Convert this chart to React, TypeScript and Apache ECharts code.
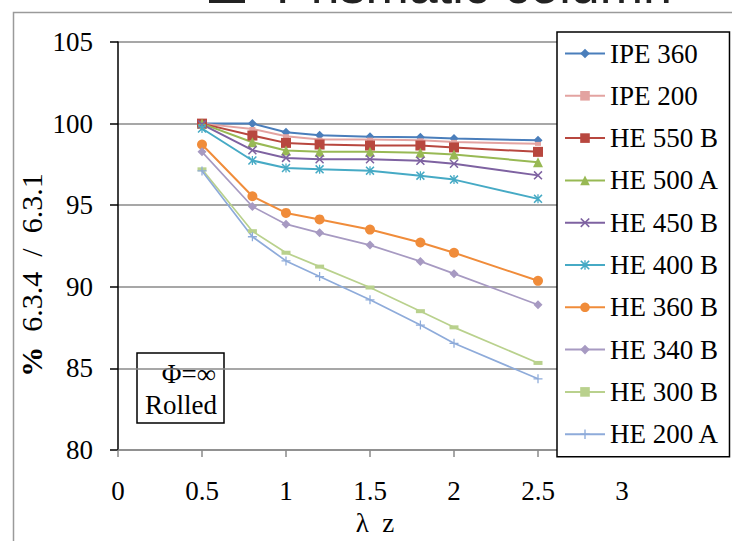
import React, { useEffect, useRef } from "react";
import * as echarts from "echarts";

const xValues = [0.5, 0.8, 1.0, 1.2, 1.5, 1.8, 2.0, 2.5];
const seriesNames = ["IPE 360", "IPE 200", "HE 550 B", "HE 500 A", "HE 450 B", "HE 400 B", "HE 360 B", "HE 340 B", "HE 300 B", "HE 200 A"];
const ipe360 = [100, 100, 99.47, 99.29, 99.19, 99.17, 99.09, 98.98];
const ipe200 = [100, 99.67, 99.23, 99.02, 99.02, 98.98, 98.88, 98.76];
const he550b = [100, 99.27, 98.82, 98.72, 98.66, 98.66, 98.54, 98.27];
const he500a = [100, 98.86, 98.35, 98.27, 98.27, 98.21, 98.11, 97.64];
const he450b = [99.95, 98.37, 97.9, 97.82, 97.82, 97.72, 97.54, 96.83];
const he400b = [99.7, 97.74, 97.28, 97.2, 97.12, 96.81, 96.57, 95.39];
const he360b = [98.72, 95.55, 94.53, 94.13, 93.51, 92.72, 92.09, 90.37];
const he340b = [98.27, 94.92, 93.84, 93.31, 92.56, 91.56, 90.81, 88.9];
const he300b = [97.2, 93.41, 92.09, 91.24, 89.96, 88.51, 87.52, 85.34];
const he200a = [97.1, 93.07, 91.59, 90.63, 89.21, 87.66, 86.54, 84.37];
const allValues = [ipe360, ipe200, he550b, he500a, he450b, he400b, he360b, he340b, he300b, he200a];

const colors = ["#4A7EBB", "#E3A3A1", "#B8473F", "#98B954", "#7E62A1", "#46AAC5", "#F08C3A", "#A79AC2", "#B9D18D", "#8EABDA"];

const X_PATH = "path://M0,1.2 L1.2,0 L5,3.8 L8.8,0 L10,1.2 L6.2,5 L10,8.8 L8.8,10 L5,6.2 L1.2,10 L0,8.8 L3.8,5 Z";
const PLUS_PATH = "path://M4.3,0 L5.7,0 L5.7,4.3 L10,4.3 L10,5.7 L5.7,5.7 L5.7,10 L4.3,10 L4.3,5.7 L0,5.7 L0,4.3 L4.3,4.3 Z";
const AST_PATH = "path://M0,1.2 L1.2,0 L5,3.8 L8.8,0 L10,1.2 L6.2,5 L10,8.8 L8.8,10 L5,6.2 L1.2,10 L0,8.8 L3.8,5 Z M4.3,0 L5.7,0 L5.7,10 L4.3,10 Z";

const symbols: any[] = ["diamond", "rect", "rect", "triangle", X_PATH, AST_PATH, "circle", "diamond", "rect", PLUS_PATH];
const symbolSizes: any[] = [9, [6, 4], 10, 10, 9, 9, 10, 9, [9, 4], 9];
const lineWidths = [2, 2, 2, 2, 2, 2, 2, 1.7, 1.7, 1.7];

const SERIF = "Liberation Serif";
const FS = 27;

export default function App() {
  const ref = useRef<HTMLDivElement>(null);
  useEffect(() => {
    if (!ref.current) return;
    const chart = echarts.init(ref.current, undefined, { renderer: "svg" });
    const series = seriesNames.map((name, i) => ({
      name,
      type: "line",
      data: xValues.map((x, j) => [x, allValues[i][j]]),
      symbol: symbols[i],
      symbolSize: symbolSizes[i],
      showAllSymbol: true,
      lineStyle: { color: colors[i], width: lineWidths[i] },
      itemStyle: { color: colors[i], borderWidth: 0 },
      emphasis: { disabled: true },
    }));
    chart.setOption({
      animation: false,
      backgroundColor: "#ffffff",
      textStyle: { fontFamily: SERIF },
      grid: { left: 118, right: 110, top: 42, bottom: 88, containLabel: false },
      xAxis: {
        type: "value",
        min: 0,
        max: 3,
        interval: 0.5,
        axisLine: { show: true, onZero: false, lineStyle: { color: "#8a8a8a", width: 1.5 } },
        axisTick: { show: true, inside: false, length: 7, lineStyle: { color: "#8a8a8a", width: 1.5 } },
        axisLabel: { color: "#000", fontFamily: SERIF, fontSize: FS, margin: 27 },
        splitLine: { show: false },
        name: "λ  z",
        nameLocation: "middle",
        nameGap: 57,
        nameTextStyle: { color: "#000", fontFamily: SERIF, fontSize: FS, padding: [0, 0, 0, 10] },
      },
      yAxis: {
        type: "value",
        min: 80,
        max: 105,
        interval: 5,
        axisLine: { show: true, lineStyle: { color: "#000", width: 1.5 } },
        axisTick: { show: true, inside: false, length: 8, lineStyle: { color: "#000", width: 1.5 } },
        axisLabel: { color: "#000", fontFamily: SERIF, fontSize: FS, margin: 25 },
        splitLine: { show: true, lineStyle: { color: "#8a8a8a", width: 1.5 } },
      },
      legend: {
        orient: "vertical",
        left: 557,
        top: 32,
        padding: [8, 10, 9, 7],
        backgroundColor: "#ffffff",
        borderColor: "#000",
        borderWidth: 1.5,
        borderRadius: 0,
        itemWidth: 40,
        itemHeight: 12,
        itemGap: 15.3,
        textStyle: { color: "#000", fontFamily: SERIF, fontSize: FS, lineHeight: 27 },
        data: seriesNames,
        selectedMode: false,
      },
      graphic: [
        {
          type: "rect",
          left: 11,
          top: 10,
          shape: { x: 0, y: 0, width: 760, height: 560 },
          style: { fill: "none", stroke: "#9a9a9a", lineWidth: 1.5 },
          z: -10,
          silent: true,
        },
        {
          type: "rect",
          shape: { x: 209, y: -6, width: 36, height: 9 },
          style: { fill: "#222" },
          silent: true,
        },
        {
          type: "text",
          x: 276,
          y: -15,
          style: {
            text: "Prismatic column",
            fontFamily: "Liberation Sans",
            fontSize: 52,
            fill: "#222",
            verticalAlign: "middle",
          },
          silent: true,
        },
        {
          type: "text",
          x: 31,
          y: 275,
          rotation: Math.PI / 2,
          style: {
            text: "{b|%}  {n|6.3.4  /  6.3.1}",
            rich: {
              b: { fontWeight: "bold", fontFamily: SERIF, fontSize: 30, fill: "#000" },
              n: { fontFamily: SERIF, fontSize: 30, fill: "#000" },
            },
            fontFamily: SERIF,
            fontSize: 30,
            fill: "#000",
            align: "center",
            verticalAlign: "middle",
          },
          silent: true,
        },
        {
          type: "group",
          z: 100,
          children: [
            {
              type: "rect",
              shape: { x: 137, y: 353, width: 87, height: 70 },
              style: { fill: "#ffffff", stroke: "#000", lineWidth: 1.5 },
            },
            {
              type: "text",
              x: 216,
              y: 374,
              style: { text: "Φ=∞", fontFamily: SERIF, fontSize: FS, fill: "#000", align: "right", verticalAlign: "middle" },
            },
            {
              type: "text",
              x: 217,
              y: 405,
              style: { text: "Rolled", fontFamily: SERIF, fontSize: FS, fill: "#000", align: "right", verticalAlign: "middle" },
            },
          ],
        },
      ],
      series,
    });
    return () => chart.dispose();
  }, []);
  return <div ref={ref} style={{ position: "fixed", left: 0, top: 0, width: 732, height: 541 }} />;
}
